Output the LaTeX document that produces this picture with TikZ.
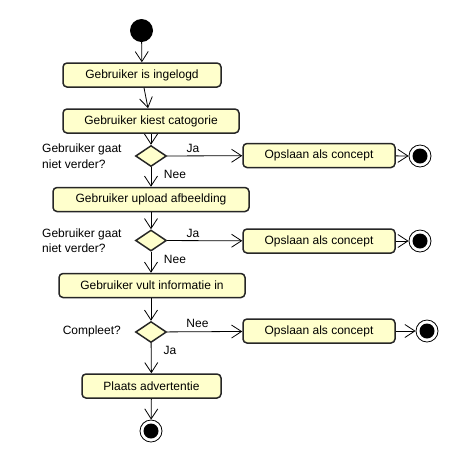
\documentclass[tikz,border=0pt]{standalone}
\usepackage{fontspec}
\setmainfont{Liberation Sans}
\usetikzlibrary{arrows.meta,shapes.geometric}
\definecolor{actfill}{HTML}{FFFFCC}
\begin{document}
\begin{tikzpicture}[x=1pt,y=-1pt,
  every node/.style={font=\fontsize{12}{15.5}\selectfont},
  act/.style={draw=black!85, line width=1.5pt, fill=actfill, rounded corners=4pt,
    minimum height=24pt, inner sep=0pt, anchor=center},
  dec/.style={diamond, draw=black!85, line width=1.5pt, fill=actfill, inner sep=0pt,
    minimum width=31pt, minimum height=21pt},
  startnode/.style={circle, fill=black, minimum size=23pt, inner sep=0pt},
  endnode/.style={circle, draw=black, line width=0.8pt, fill=white, minimum size=22pt, inner sep=0pt,
    path picture={\fill[black] (path picture bounding box.center) circle (7.5pt);}},
  flow/.style={draw=black, line width=0.8pt, -{Straight Barb[length=10pt,width=13pt,line width=0.8pt]}},
  lbl/.style={inner sep=0pt}
]
\useasboundingbox (0,0) rectangle (468,459);

\node[startnode] (s) at (141.5,30.5) {};
\node[act, minimum width=158pt] (b1) at (142,75) {Gebruiker is ingelogd};
\node[act, minimum width=176pt] (b2) at (151,121) {Gebruiker kiest catogorie};
\node[dec] (d1) at (151,156) {};
\node[act, minimum width=152pt] (o1) at (319,155.5) {Opslaan als concept};
\node[endnode] (e1) at (420,156) {};
\node[act, minimum width=196pt] (b3) at (151,199.5) {Gebruiker upload afbeelding};
\node[dec] (d2) at (151,240.5) {};
\node[act, minimum width=152pt] (o2) at (319,241) {Opslaan als concept};
\node[endnode] (e2) at (420,241) {};
\node[act, minimum width=186pt] (b4) at (152,285.5) {Gebruiker vult informatie in};
\node[dec] (d3) at (151,332) {};
\node[act, minimum width=152pt] (o3) at (319,331) {Opslaan als concept};
\node[endnode] (e3) at (427,331) {};
\node[act, minimum width=139pt] (b5) at (151.5,386) {Plaats advertentie};
\node[endnode] (e4) at (151,431) {};

\node[lbl, align=left, anchor=west] (q1) at (42,156) {Gebruiker gaat\\niet verder?};
\node[lbl, align=left, anchor=west] (q2) at (42,240.5) {Gebruiker gaat\\niet verder?};
\node[lbl, anchor=east] (q3) at (121,331) {Compleet?};
\node[lbl] (j1) at (193,148) {Ja};
\node[lbl] (n1) at (175,174) {Nee};
\node[lbl] (j2) at (193,233) {Ja};
\node[lbl] (n2) at (175,259) {Nee};
\node[lbl] (n3) at (197.5,323) {Nee};
\node[lbl] (j3) at (170,350) {Ja};

\draw[flow] (s) -- (b1);
\draw[flow] ([xshift=2pt]b1.south) -- ([xshift=-3pt]b2.north);
\draw[flow] (b2) -- (d1);
\draw[flow] (d1) -- (o1);
\draw[flow] (o1) -- (e1);
\draw[flow] (d1) -- (b3);
\draw[flow] (b3) -- (d2);
\draw[flow] (d2) -- (o2);
\draw[flow] (o2) -- (e2);
\draw[flow] (d2) -- (d2 |- b4.north);
\draw[flow] (d3 |- b4.south) -- (d3);
\draw[flow] (d3) -- (o3);
\draw[flow] (o3) -- (e3);
\draw[flow] (d3) -- (b5);
\draw[flow] (b5) -- (e4);
\end{tikzpicture}
\end{document}
